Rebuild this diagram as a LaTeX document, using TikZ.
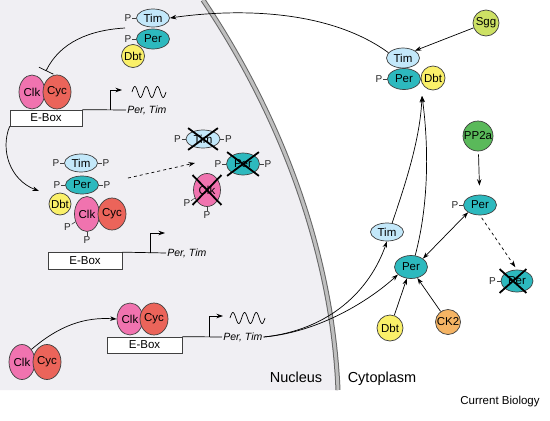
\documentclass[tikz,border=0pt]{standalone}
\usepackage{fontspec}
\setmainfont{Liberation Sans}
\usetikzlibrary{shapes.geometric, shapes.misc, arrows.meta}

\definecolor{timcol}{RGB}{195,232,250}
\definecolor{percol}{RGB}{45,185,190}
\definecolor{dbtcol}{RGB}{250,240,105}
\definecolor{clkcol}{RGB}{240,115,175}
\definecolor{cyccol}{RGB}{235,100,90}
\definecolor{sggcol}{RGB}{205,225,100}
\definecolor{pp2col}{RGB}{90,185,90}
\definecolor{ck2col}{RGB}{245,180,100}
\definecolor{nuccol}{RGB}{240,239,243}

\begin{document}
\begin{tikzpicture}[x=1pt, y=-1pt, line width=0.7pt,
	>={Stealth[length=6.5pt, width=4.5pt]},
	prot/.style={draw=black!75, ellipse, inner sep=0pt, font=\fontsize{11.5}{12}\selectfont},
	tim/.style={prot, fill=timcol, minimum width=33pt, minimum height=18pt},
	per/.style={prot, fill=percol, minimum width=33pt, minimum height=20pt},
	clk/.style={prot, fill=clkcol, minimum width=26pt, minimum height=34pt},
	cyc/.style={prot, fill=cyccol, minimum width=26pt, minimum height=34pt},
	ball/.style={prot, circle, minimum size=#1},
	phos/.style={pin={[pin distance=4pt, inner sep=0.5pt, text=black!85,
		font=\fontsize{10}{11}\selectfont, pin edge={black!75, line width=0.6pt}]#1:P}},
	gone/.style={cross out, draw=black, line width=1.8pt, inner sep=0pt},
	ebox/.style={draw=black!75, fill=white, rectangle, inner sep=0pt,
		minimum width=72pt, minimum height=16pt, font=\fontsize{11.5}{12}\selectfont},
	gene/.style={inner sep=1pt, font=\itshape\fontsize{10.5}{11}\selectfont}]
	\useasboundingbox (0,0) rectangle (550,421);
	\fill[white] (0,0) rectangle (550,421);
	
	% nucleus and its envelope
	\fill[nuccol] (0,0) -- (203,0) .. controls (280,115) and (332,250) .. (338,390) -- (0,390) -- cycle;
	\draw[black!60, line width=5pt, postaction={draw, black!25, line width=3pt}]
		(203,0) .. controls (280,115) and (332,250) .. (338,390);
	
	% Per/Tim repress Clk/Cyc
	\node[tim, phos=left] (10) at (153,18) {Tim};
	\node[per, phos=left] (11) at (153,39) {Per};
	\node[ball=23pt, fill=dbtcol] (12) at (133,56) {Dbt};
	\node[clk] (13) at (32,92) {Clk};
	\node[cyc] (14) at (57,92) {Cyc};
	\node[ebox] (15) at (46,118) {E-Box};
	\node[gene, anchor=west] (16) at (126,110) {Per, Tim};
	\coordinate (17) at (110,110);
	\coordinate (18) at (132,92);
	\coordinate (19) at (125,28);
	\coordinate (20) at (46,71);
	\draw (15.north east) -- (16.west);
	\draw[->] (17) |- ++(12,-20);
	\draw[shift={(18)}] plot[domain=0:34, samples=80] (\x, {-5.5*sin(\x*31.765)});
	\draw[-{Bar[width=16pt]}] (19) .. controls (90,30) and (60,42) .. (20);
	
	% complex off the E-Box
	\node[tim, phos=left, phos=right] (30) at (81,163) {Tim};
	\node[per, minimum height=18pt, phos=left, phos=right] (31) at (82,185) {Per};
	\node[ball=22pt, fill=dbtcol] (32) at (60,204) {Dbt};
	\node[clk, minimum width=25pt, minimum height=35pt, phos=-150, phos=below] (33) at (87,214) {Clk};
	\node[cyc, minimum width=25pt, minimum height=32pt] (34) at (112,214) {Cyc};
	\node[ebox, minimum width=74pt, minimum height=17pt] (35) at (85,261) {E-Box};
	\node[gene, anchor=west] (36) at (166,253) {Per, Tim};
	\coordinate (37) at (150,253);
	\coordinate (38) at (39,191);
	\coordinate (39) at (128,178);
	\draw (35.north east) -- (36.west);
	\draw[->] (37) |- ++(15,-20);
	\draw[->] (15.south west) .. controls (0,150) and (10,180) .. (38);
	
	% degraded
	\node[tim, minimum width=34pt, phos=left, phos=right] (40) at (203,139) {Tim};
	\node[per, minimum height=22pt, phos=left, phos=right] (41) at (243,164) {Per};
	\node[clk, minimum width=27pt, minimum height=33pt, phos=-150, phos=below] (42) at (207,190) {Clk};
	\node[gone, minimum width=28pt, minimum height=20pt] (43) at (40) {};
	\node[gone, minimum width=30pt, minimum height=22pt] (44) at (41) {};
	\node[gone, minimum width=27pt, minimum height=28pt] (45) at (42) {};
	\coordinate (46) at (195,163);
	\draw[->, dashed] (39) -- (46);
	
	% Clk/Cyc binding the E-Box
	\node[clk, minimum height=35pt] (50) at (22,362) {Clk};
	\node[cyc, minimum height=35pt] (51) at (47,362) {Cyc};
	\node[clk, minimum height=32pt] (52) at (130,319) {Clk};
	\node[cyc, minimum height=32pt] (53) at (154,319) {Cyc};
	\node[ebox, minimum width=75pt] (54) at (144.5,345) {E-Box};
	\node[gene, anchor=west] (55) at (222,337) {Per, Tim};
	\coordinate (56) at (209,337);
	\coordinate (57) at (230,318);
	\draw (54.north east) -- (55.west);
	\draw[->] (56) |- ++(14,-21);
	\draw[shift={(57)}] plot[domain=0:35, samples=80] (\x, {-5.5*sin(\x*30.857)});
	\draw[->] (50.north east) .. controls (60,325) and (85,317) .. (52.west);
	
	% cytoplasm
	\node[tim, minimum height=20pt] (60) at (403,58) {Tim};
	\node[per, minimum height=21pt, phos=left] (61) at (404,79) {Per};
	\node[ball=24pt, fill=dbtcol] (62) at (433,78) {Dbt};
	\node[ball=26pt, fill=sggcol] (63) at (486,23) {Sgg};
	\node[ball=30pt, fill=pp2col] (64) at (478,136) {PP2a};
	\node[per, phos=left] (65) at (480,205) {Per};
	\node[tim] (66) at (387,232) {Tim};
	\node[per, minimum height=23pt] (67) at (411,267) {Per};
	\node[per, minimum width=32pt, minimum height=22pt, phos=left] (68) at (517,281) {Per};
	\node[gone, minimum width=25pt, minimum height=22pt] (69) at (513,281) {};
	\node[ball=26pt, fill=dbtcol] (70) at (390,328) {Dbt};
	\node[ball=25pt, fill=ck2col] (71) at (448,322) {CK2};
	\coordinate (72) at (422,96);
	
	\draw[->] (63) -- (60.north east);
	\draw[->] (60.160) .. controls (330,10) and (240,8) .. (10.east);
	\draw[->, shorten <=3pt, shorten >=9pt] (64) -- (65);
	\draw[<->] (67.north east) -- (65.south west);
	\draw[->, dashed, shorten <=3pt, shorten >=3pt] (65.south) -- (68.north);
	\draw[->] (70) -- (67.-110);
	\draw[->] (71) -- (67.-60);
	\draw[->] (55.east) .. controls (330,330) and (370,290) .. (66.south);
	\draw[->] (55.east) .. controls (320,332) and (370,300) .. (67.-150);
	\draw[->] (66.60) .. controls (405,185) and (420,140) .. (72);
	\draw[->] (67.70) .. controls (430,200) and (428,140) .. (72);
	
	\node[anchor=base, font=\fontsize{14.5}{16}\selectfont] (80) at (296,382) {Nucleus};
	\node[anchor=base, font=\fontsize{14.5}{16}\selectfont] (81) at (382,382) {Cytoplasm};
	\node[anchor=base, font=\fontsize{11.5}{13}\selectfont] (82) at (500,404) {Current Biology};
\end{tikzpicture}
\end{document}
